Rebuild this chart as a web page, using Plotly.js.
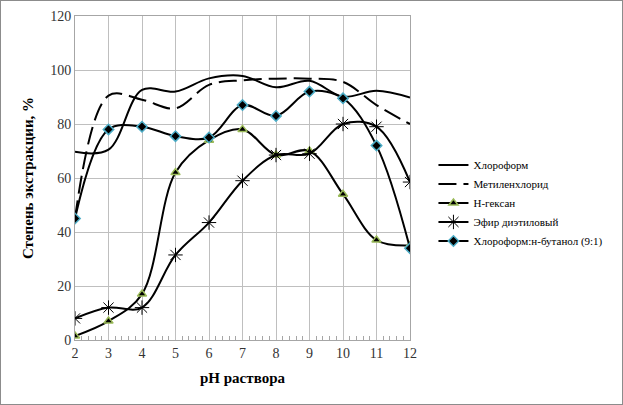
<!DOCTYPE html>
<html>
<head>
<meta charset="utf-8">
<script src="https://cdn.plot.ly/plotly-3.0.1.min.js"></script>
<style>
  body { margin: 0; background: #fff; }
  #chart { width: 621px; height: 403px; border: 1px solid #8c8c8c; }
</style>
</head>
<body>
<div id="chart"></div>
<script>
const ph = [2, 3, 4, 5, 6, 7, 8, 9, 10, 11, 12];

const chloroform = [69.7, 70.5, 92.6, 92.0, 96.9, 97.8, 93.6, 96.0, 90.1, 92.3, 89.8];
const methyleneChloride = [45, 90.5, 89, 85.8, 94.5, 96.2, 96.8, 96.8, 95.6, 87, 80];
const hexane = [1.5, 7, 17, 62, 74, 78, 68.5, 70, 54, 37, 35];
const ether = [8, 12, 12, 31.5, 43.5, 59, 68.5, 69, 80, 79, 58.5];
const chlorButanol = [45, 78, 79, 75.5, 75, 87, 83, 92, 89.5, 72, 34];

const names = ["Хлороформ", "Метиленхлорид", "Н-гексан", "Эфир диэтиловый", "Хлороформ:н-бутанол (9:1)"];

const serif = "Liberation Serif";

function lineTrace(y, name, dash, marker) {
    let trace = {
        x: ph,
        y: y,
        name: name,
        type: "scatter",
        mode: marker ? "lines+markers" : "lines",
        line: { color: "black", width: 2, shape: "spline", smoothing: 1, dash: dash || "solid" }
    };
    if (marker) {
        trace.marker = marker;
    }
    return trace;
}

const data = [
    lineTrace(chloroform, names[0]),
    lineTrace(methyleneChloride, names[1], "18px,7px"),
    lineTrace(hexane, names[2], null, {
        symbol: "triangle-up", size: 8, color: "black",
        line: { color: "#9bbb59", width: 1.5 }
    }),
    lineTrace(ether, names[3], null, {
        symbol: "asterisk-open", size: 12, color: "black",
        line: { color: "black", width: 1 }
    }),
    lineTrace(chlorButanol, names[4], null, {
        symbol: "diamond", size: 8, color: "black",
        line: { color: "#4bacc6", width: 1.5 }
    })
];

const layout = {
    width: 621,
    height: 403,
    margin: { l: 74, r: 212, t: 15, b: 64 },
    paper_bgcolor: "white",
    plot_bgcolor: "white",
    font: { family: serif, size: 13, color: "#222" },
    showlegend: true,
    legend: {
        x: 1.07, y: 0.585, xanchor: "left", yanchor: "top",
        font: { family: serif, size: 11, color: "black" },
        bgcolor: "rgba(0,0,0,0)",
        itemwidth: 30,
        tracegroupgap: 0
    },
    xaxis: {
        range: [2, 12],
        dtick: 1,
        tick0: 2,
        showgrid: true,
        gridcolor: "#bfbfbf",
        gridwidth: 1,
        showline: true,
        linecolor: "#a6a6a6",
        mirror: true,
        ticks: "",
        zeroline: false,
        tickfont: { family: serif, size: 14, color: "#333" },
        minor: { dtick: 0.2, ticks: "inside", ticklen: 4, tickcolor: "#a6a6a6", showgrid: false },
        title: { text: "<b>pH раствора</b>", font: { family: serif, size: 15, color: "black" }, standoff: 12 }
    },
    yaxis: {
        range: [0, 120],
        dtick: 20,
        showgrid: true,
        gridcolor: "#bfbfbf",
        gridwidth: 1,
        showline: true,
        linecolor: "#a6a6a6",
        mirror: true,
        ticks: "",
        zeroline: false,
        tickfont: { family: serif, size: 14, color: "#333" },
        title: { text: "<b>Степень экстракции, %</b>", font: { family: serif, size: 15, color: "black" }, standoff: 12 }
    }
};

Plotly.newPlot("chart", data, layout, { displayModeBar: false, staticPlot: true });
</script>
</body>
</html>
